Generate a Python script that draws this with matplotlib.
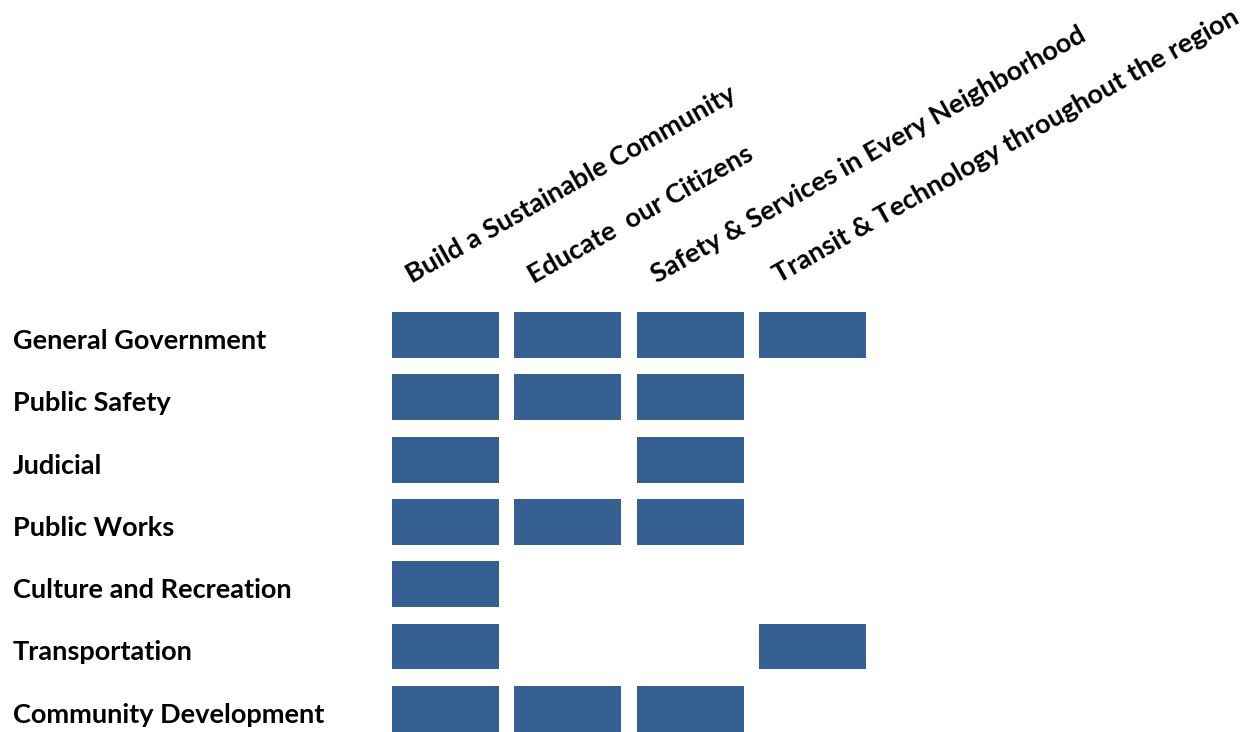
import matplotlib
matplotlib.use("Agg")
import matplotlib.pyplot as plt
import numpy as np

# strategic priorities (columns) vs departments (rows)
priorities = ["Build a Sustainable Community",
              "Educate  our Citizens",
              "Safety & Services in Every Neighborhood",
              "Transit & Technology throughout the region"]
departments = ["General Government", "Public Safety", "Judicial",
               "Public Works", "Culture and Recreation", "Transportation",
               "Community Development"]
# 1 = department supports the priority
build = [1, 1, 1, 1, 1, 1, 1]
educate = [1, 1, 0, 1, 0, 0, 1]
safety = [1, 1, 1, 1, 0, 0, 1]
transit = [1, 0, 0, 0, 0, 1, 0]

matrix = np.array([build, educate, safety, transit])

W, H = 1251, 732
fig = plt.figure(figsize=(W / 100, H / 100), dpi=100)
plt.rcParams['font.family'] = ['Lato', 'DejaVu Sans']

# axes placed in pixel terms: column pitch 122.3, row pitch 62.3
left = 384.35
right = left + 4 * 122.3
top = 303.85
ax = fig.add_axes([left / W, 0, (right - left) / W, (H - top) / H])
ax.set_xlim(-0.5, 3.5)
ax.set_ylim((H - 335) / 62.3, -0.5)
ax.axis('off')

blue = '#376092'
for j in range(len(priorities)):
    rows = [i for i in range(len(departments)) if matrix[j][i]]
    ax.bar([j] * len(rows), [0.738] * len(rows), width=0.875,
           bottom=[r - 0.369 for r in rows], color=blue, linewidth=0)

# row labels on the left
for i, name in enumerate(departments):
    fig.text(13 / W, 1 - (335 + 62.3 * i + 6) / H, name, ha='left',
             va='center', fontsize=19.5, fontweight='bold', color='black')

# rotated column headings
for j, name in enumerate(priorities):
    x0 = 392 + 122.3 * j + 20
    fig.text(x0 / W, 1 - 284 / H, name, rotation=29.5, rotation_mode='anchor',
             ha='left', va='baseline', fontsize=19.5, fontweight='bold',
             color='black')

fig.savefig("out.png", dpi=100)
